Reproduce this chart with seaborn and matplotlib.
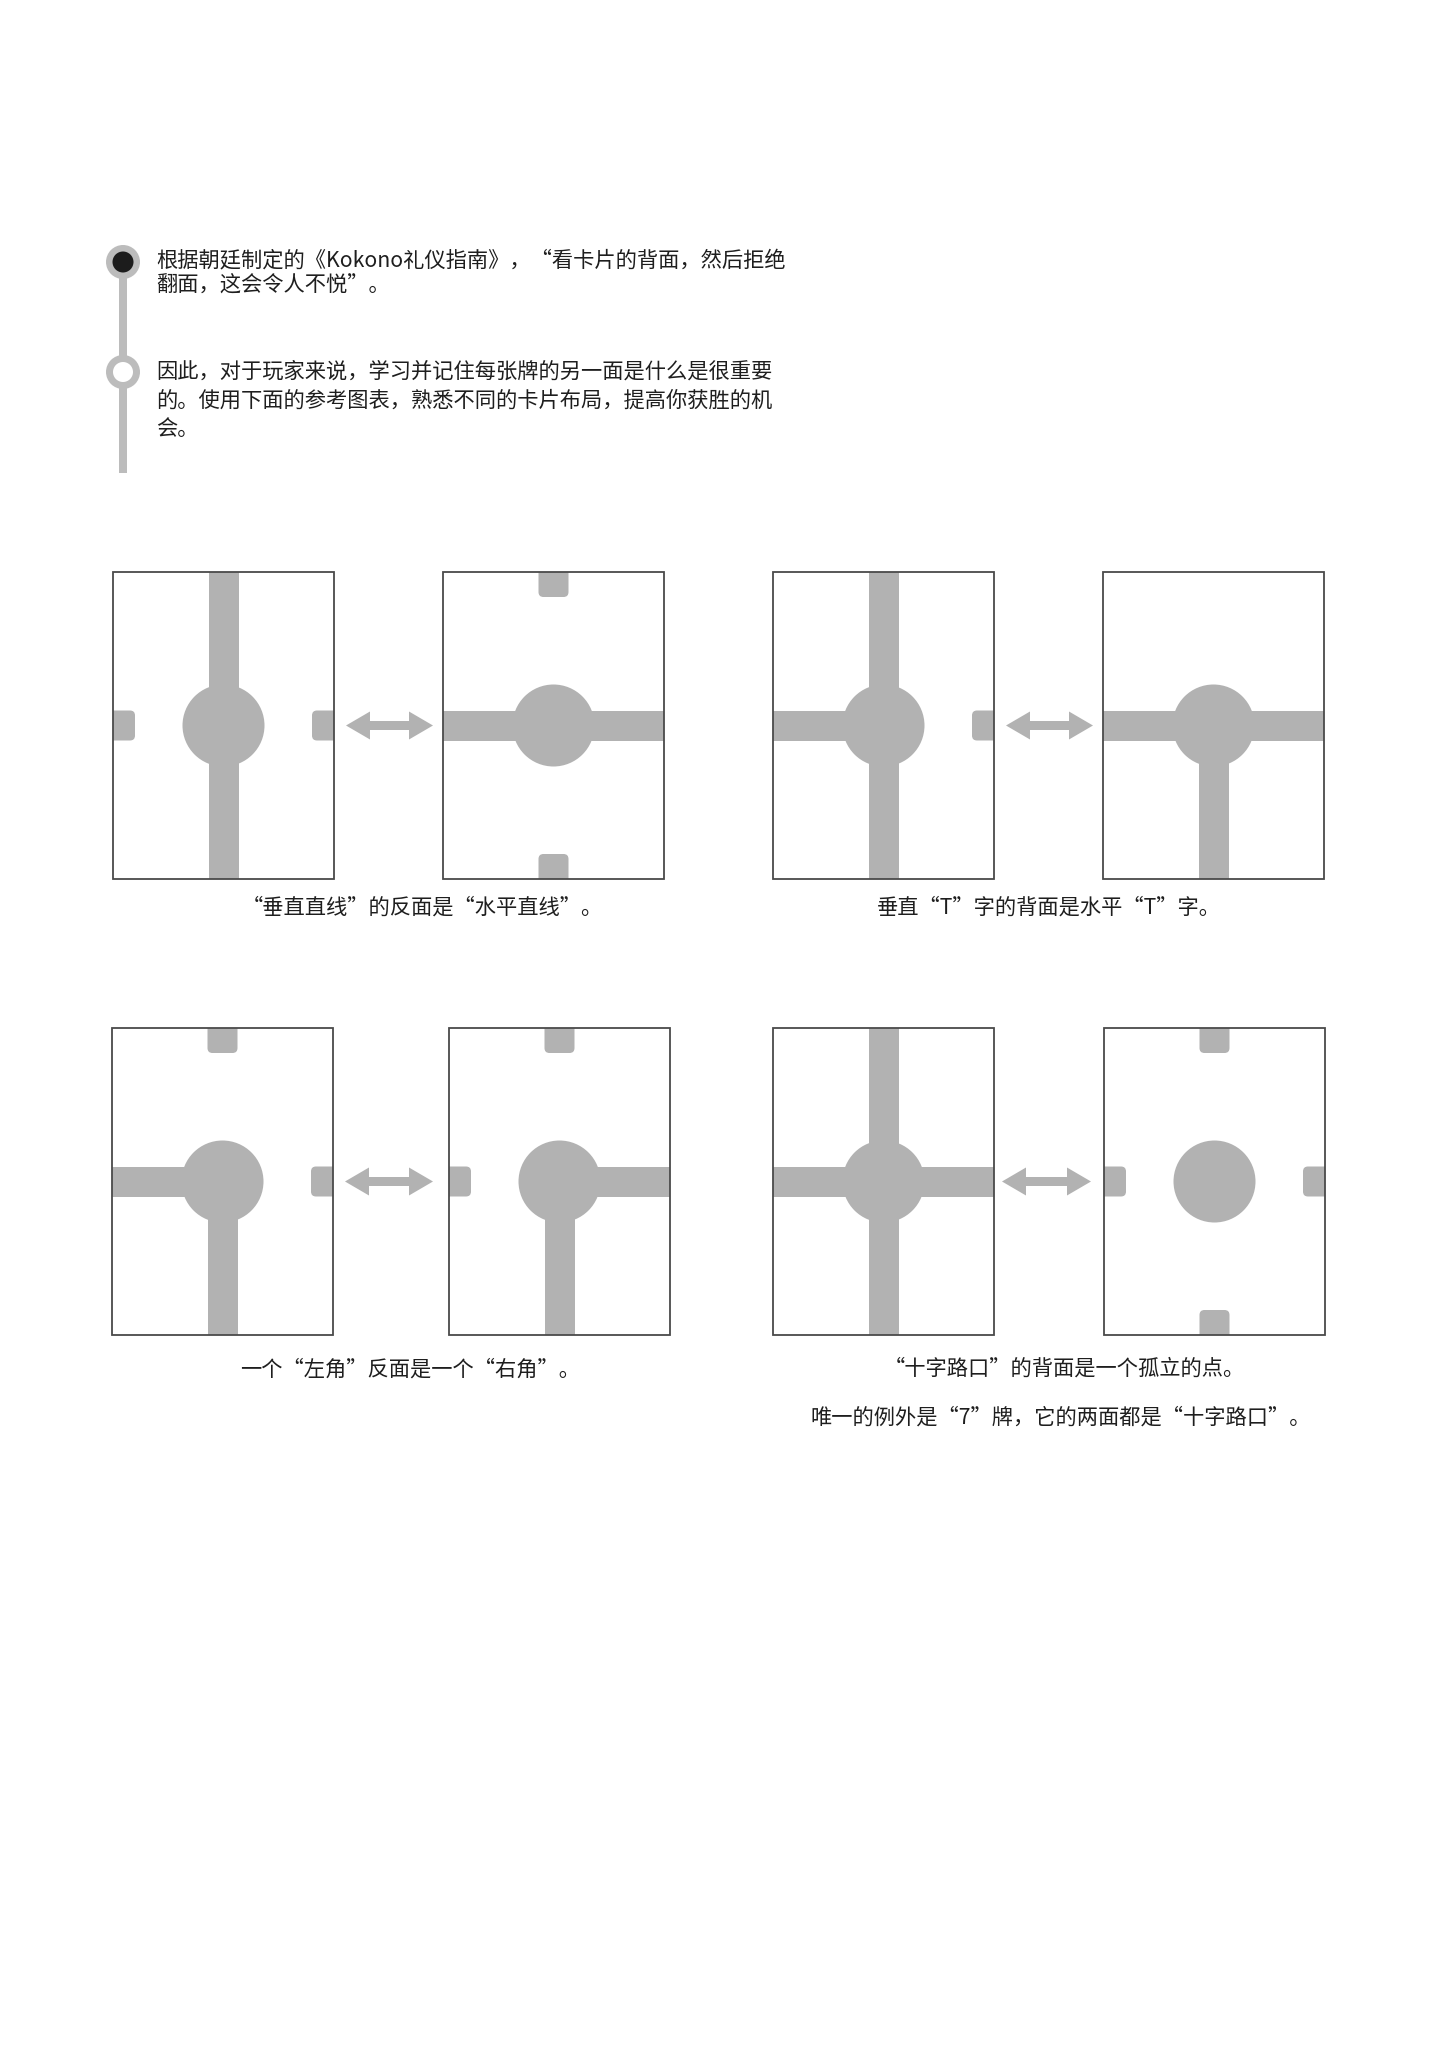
import matplotlib
matplotlib.use("Agg")
import matplotlib.pyplot as plt
from matplotlib.patches import Rectangle, Circle, FancyBboxPatch, Polygon
import seaborn as sns

# ---- content ----
intro_lines_1 = ["根据朝廷制定的《Kokono礼仪指南》，“看卡片的背面，然后拒绝",
                 "翻面，这会令人不悦”。"]
intro_lines_2 = ["因此，对于玩家来说，学习并记住每张牌的另一面是什么是很重要",
                 "的。使用下面的参考图表，熟悉不同的卡片布局，提高你获胜的机",
                 "会。"]

card_names = ["垂直直线", "水平直线", "垂直T", "水平T", "左角", "右角", "十字路口", "孤立的点"]
# which road arms leave the centre dot (N, S, E, W)
card_arms = [("N", "S"), ("E", "W"), ("N", "S", "W"), ("E", "W", "S"),
             ("W", "S"), ("E", "S"), ("N", "S", "E", "W"), ()]
# small rounded notches on the card edges
card_tabs = [("E", "W"), ("N", "S"), ("E",), (), ("N", "E"), ("N", "W"), (), ("N", "S", "E", "W")]

pairs = [(0, 1), (2, 3), (4, 5), (6, 7)]
captions = ["“垂直直线”的反面是“水平直线”。",
            "垂直“T”字的背面是水平“T”字。",
            "一个“左角”反面是一个“右角”。",
            "“十字路口”的背面是一个孤立的点。"]
extra_note = "唯一的例外是“7”牌，它的两面都是“十字路口”。"

# ---- layout (pixels) ----
W, H = 1447, 2048
card_left = [113, 443, 773, 1103, 112, 449, 773, 1104]
card_top = [572, 572, 572, 572, 1028, 1028, 1028, 1028]
card_w, card_h = 221, 307
arrow_x = [(346, 433), (1006, 1093), (345, 433), (1002, 1091)]
caption_xy = [(422, 908), (1049, 908), (410, 1370), (1064, 1369)]
note_xy = (1061, 1418)

road = "#b2b2b2"
edge = "#4a4a4a"
line_col = "#bcbcbc"
text_col = "#1e1e1e"
bar = 30
dot_r = 41
tab_depth_side, tab_depth_tb = 22, 25

sns.set_theme(style="white")
plt.rcParams['font.family'] = ['Noto Sans CJK SC', 'DejaVu Sans']

fig = plt.figure(figsize=(W / 100, H / 100), dpi=100)
fig.patch.set_facecolor("white")
ax = fig.add_axes([0, 0, 1, 1])
ax.set_xlim(0, W)
ax.set_ylim(H, 0)
ax.axis("off")

# ---- timeline ----
tx = 123
ax.add_patch(Rectangle((tx - 4, 262), 8, 211, color=line_col, lw=0, zorder=1))
ax.add_patch(Circle((tx, 262), 17, color=line_col, lw=0, zorder=2))
ax.add_patch(Circle((tx, 262), 10.5, color="#1c1c1c", lw=0, zorder=3))
ax.add_patch(Circle((tx, 372), 17, color=line_col, lw=0, zorder=2))
ax.add_patch(Circle((tx, 372), 10, color="white", lw=0, zorder=3))

fs = 15.3
for i, line in enumerate(intro_lines_1):
    ax.text(156, 260 + i * 26, line, fontsize=fs, color=text_col, ha="left", va="center")
for i, line in enumerate(intro_lines_2):
    ax.text(156, 372 + i * 28.5, line, fontsize=fs, color=text_col, ha="left", va="center")


def draw_card(idx):
    x0, y0 = card_left[idx], card_top[idx]
    cx, cy = x0 + card_w / 2, y0 + card_h / 2
    frame = Rectangle((x0, y0), card_w, card_h, facecolor="white", edgecolor="none", zorder=1)
    ax.add_patch(frame)
    for arm in card_arms[idx]:
        if arm == "N":
            r = Rectangle((cx - bar / 2, y0), bar, card_h / 2, color=road, lw=0)
        elif arm == "S":
            r = Rectangle((cx - bar / 2, cy), bar, card_h / 2, color=road, lw=0)
        elif arm == "W":
            r = Rectangle((x0, cy - bar / 2), card_w / 2, bar, color=road, lw=0)
        else:
            r = Rectangle((cx, cy - bar / 2), card_w / 2, bar, color=road, lw=0)
        r.set_zorder(2)
        ax.add_patch(r)
    ax.add_patch(Circle((cx, cy), dot_r, color=road, lw=0, zorder=3))
    for tab in card_tabs[idx]:
        if tab == "N":
            b = (cx - bar / 2, y0 - 10, bar, tab_depth_tb + 10)
        elif tab == "S":
            b = (cx - bar / 2, y0 + card_h - tab_depth_tb, bar, tab_depth_tb + 10)
        elif tab == "W":
            b = (x0 - 10, cy - bar / 2, tab_depth_side + 10, bar)
        else:
            b = (x0 + card_w - tab_depth_side, cy - bar / 2, tab_depth_side + 10, bar)
        p = FancyBboxPatch((b[0], b[1]), b[2], b[3], boxstyle="round,pad=0,rounding_size=5",
                           color=road, lw=0, zorder=2)
        ax.add_patch(p)
        p.set_clip_path(frame)
    ax.add_patch(Rectangle((x0, y0), card_w, card_h, facecolor="none", edgecolor=edge,
                           lw=1.3, zorder=5))


def draw_arrow(xa, xb, y):
    hl, hh, sh = 24, 14, 4.5
    pts = [(xa, y), (xa + hl, y - hh), (xa + hl, y - sh), (xb - hl, y - sh), (xb - hl, y - hh),
           (xb, y), (xb - hl, y + hh), (xb - hl, y + sh), (xa + hl, y + sh), (xa + hl, y + hh)]
    ax.add_patch(Polygon(pts, closed=True, color=road, lw=0, zorder=2))


for k, (a, b) in enumerate(pairs):
    draw_card(a)
    draw_card(b)
    draw_arrow(arrow_x[k][0], arrow_x[k][1], card_top[a] + card_h / 2)
    ax.text(caption_xy[k][0], caption_xy[k][1], captions[k], fontsize=fs, color=text_col,
            ha="center", va="center")

ax.text(note_xy[0], note_xy[1], extra_note, fontsize=fs, color=text_col, ha="center", va="center")

fig.savefig("out.png", dpi=100, facecolor="white")
